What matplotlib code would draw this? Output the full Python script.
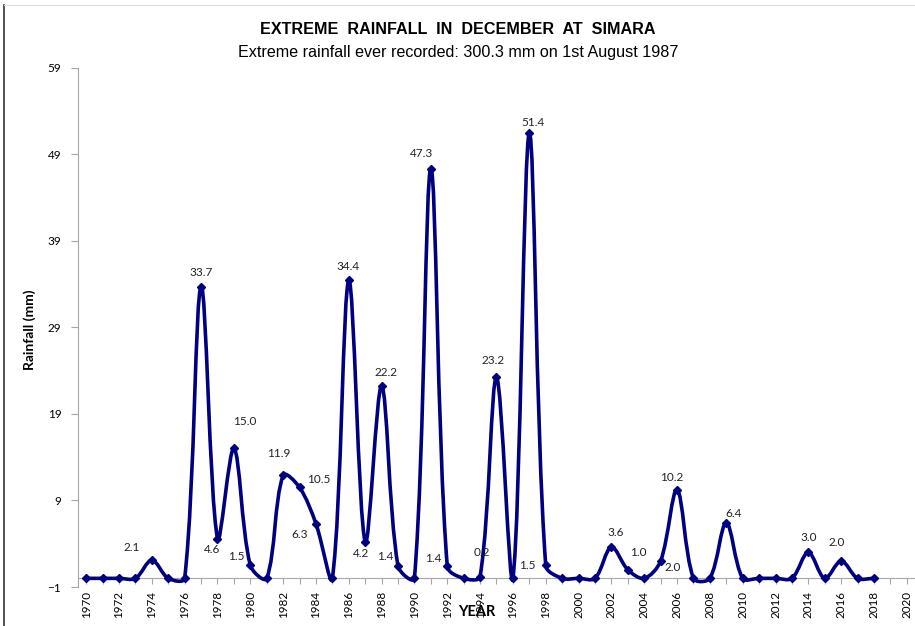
import matplotlib
matplotlib.use("Agg")
import matplotlib.pyplot as plt
import numpy as np
from matplotlib.path import Path
from matplotlib.patches import PathPatch
from matplotlib.lines import Line2D

years = list(range(1970, 2019))
rain = [0, 0, 0, 0, 2.1, 0, 0, 33.7, 4.6, 15.0,
        1.5, 0, 11.9, 10.5, 6.3, 0, 34.4, 4.2, 22.2, 1.4,
        0, 47.3, 1.4, 0, 0.2, 23.2, 0, 51.4, 1.5, 0,
        0, 0, 3.6, 1.0, 0, 2.0, 10.2, 0, 0, 6.4,
        0, 0, 0, 0, 3.0, 0, 2.0, 0, 0]

# label offsets in pixels (dx, dy up) for the labelled years
label_off = {1974: (-20, 13), 1977: (0, 14), 1978: (-5, -11), 1979: (11, 27),
             1980: (-14, 9), 1982: (-4, 22), 1983: (19, 8), 1984: (-16, -11),
             1986: (-1, 14), 1987: (-4, -12), 1988: (4, 14), 1989: (-13, 10),
             1991: (-9, 15), 1992: (-14, 8), 1994: (2, 24), 1995: (-3, 17),
             1997: (4, 11), 1998: (-18, 0), 2002: (4, 15), 2003: (11, 17),
             2005: (12, -6), 2006: (-5, 13), 2009: (7, 9), 2014: (0, 15),
             2016: (-4, 19)}

navy = "#000080"
tick_font = "Lato"
title_font = "Liberation Sans"

fig = plt.figure(figsize=(9.15, 6.26), dpi=100)
ax = fig.add_axes([78 / 915, 39 / 626, 1 - 78 / 915, (587 - 67.5) / 626])
ax.set_xlim(1969.5, 2020.5)
ax.set_ylim(-1, 59)

# smoothed line like Excel: bezier whose handles scale with the screen-space
# length of the neighbouring segments
fig.canvas.draw()
pts = ax.transData.transform(np.column_stack([years, rain]))
n = len(pts)
before = np.zeros_like(pts)
after = np.zeros_like(pts)
for i in range(n):
    p0 = pts[max(i - 1, 0)]
    p2 = pts[min(i + 1, n - 1)]
    d = p2 - p0
    l0 = np.hypot(*(pts[i] - p0))
    l1 = np.hypot(*(p2 - pts[i]))
    tot = l0 + l1 if l0 + l1 > 0 else 1
    before[i] = pts[i] - d * l0 / tot / 3
    after[i] = pts[i] + d * l1 / tot / 3
verts = [pts[0]]
codes = [Path.MOVETO]
for i in range(n - 1):
    verts += [after[i], before[i + 1], pts[i + 1]]
    codes += [Path.CURVE4] * 3
verts = ax.transData.inverted().transform(np.array(verts))
ax.add_patch(PathPatch(Path(verts, codes), facecolor="none", edgecolor=navy,
                       lw=2.6, zorder=3, capstyle="round", joinstyle="round"))
ax.plot(years, rain, ls="none", marker="D", ms=4.5, color=navy, zorder=4)

for yr, v in zip(years, rain):
    if yr in label_off:
        dx, dy = label_off[yr]
        ax.annotate("%.1f" % v, (yr, v), xytext=(dx, dy), textcoords="offset pixels",
                    ha="center", va="center", fontsize=8.5, family=tick_font,
                    color="#222222", zorder=5)

# axes styling
for s in ["top", "right"]:
    ax.spines[s].set_visible(False)
ax.spines["left"].set_color("#a6a6a6")
ax.spines["bottom"].set_color("#a6a6a6")
ax.spines["bottom"].set_position(("data", 0))
ax.spines["bottom"].set_zorder(2)

ax.set_yticks(np.arange(-1, 60, 10))
ax.set_xticks(range(1970, 2021))
ax.set_xticklabels([str(t) if t % 2 == 0 else "" for t in range(1970, 2021)],
                   rotation=90, fontsize=8.4, family=tick_font)
ax.tick_params(axis="x", direction="out", length=4, color="#a6a6a6", pad=5)
ax.tick_params(axis="y", direction="out", length=5, color="#a6a6a6", pad=7,
               labelsize=8.5)
for lab in ax.get_yticklabels():
    lab.set_family(tick_font)

fig.text(30 / 915, 1 - 330 / 626, "Rainfall (mm)", rotation=90, ha="center",
         va="center", fontsize=10, fontweight="bold", family=tick_font)
fig.text(477 / 915, 1 - 612 / 626, "YEAR", ha="center", va="center",
         fontsize=10.5, fontweight="bold", family=tick_font)
fig.text(458 / 915, 1 - 30 / 626, "EXTREME  RAINFALL  IN  DECEMBER  AT  SIMARA",
         ha="center", va="center", fontsize=11.6, fontweight="bold", family=title_font)
fig.text(458 / 915, 1 - 53 / 626, "Extreme rainfall ever recorded: 300.3 mm on 1st August 1987",
         ha="center", va="center", fontsize=11.6, family=title_font)

# chart frame edges
fig.add_artist(Line2D([4 / 915, 4 / 915], [0, 1 - 5 / 626], color="#333333", lw=1.2))
fig.add_artist(Line2D([4 / 915, 1], [1 - 5 / 626, 1 - 5 / 626], color="#dddddd", lw=0.8))

fig.savefig("out.png", dpi=100)
